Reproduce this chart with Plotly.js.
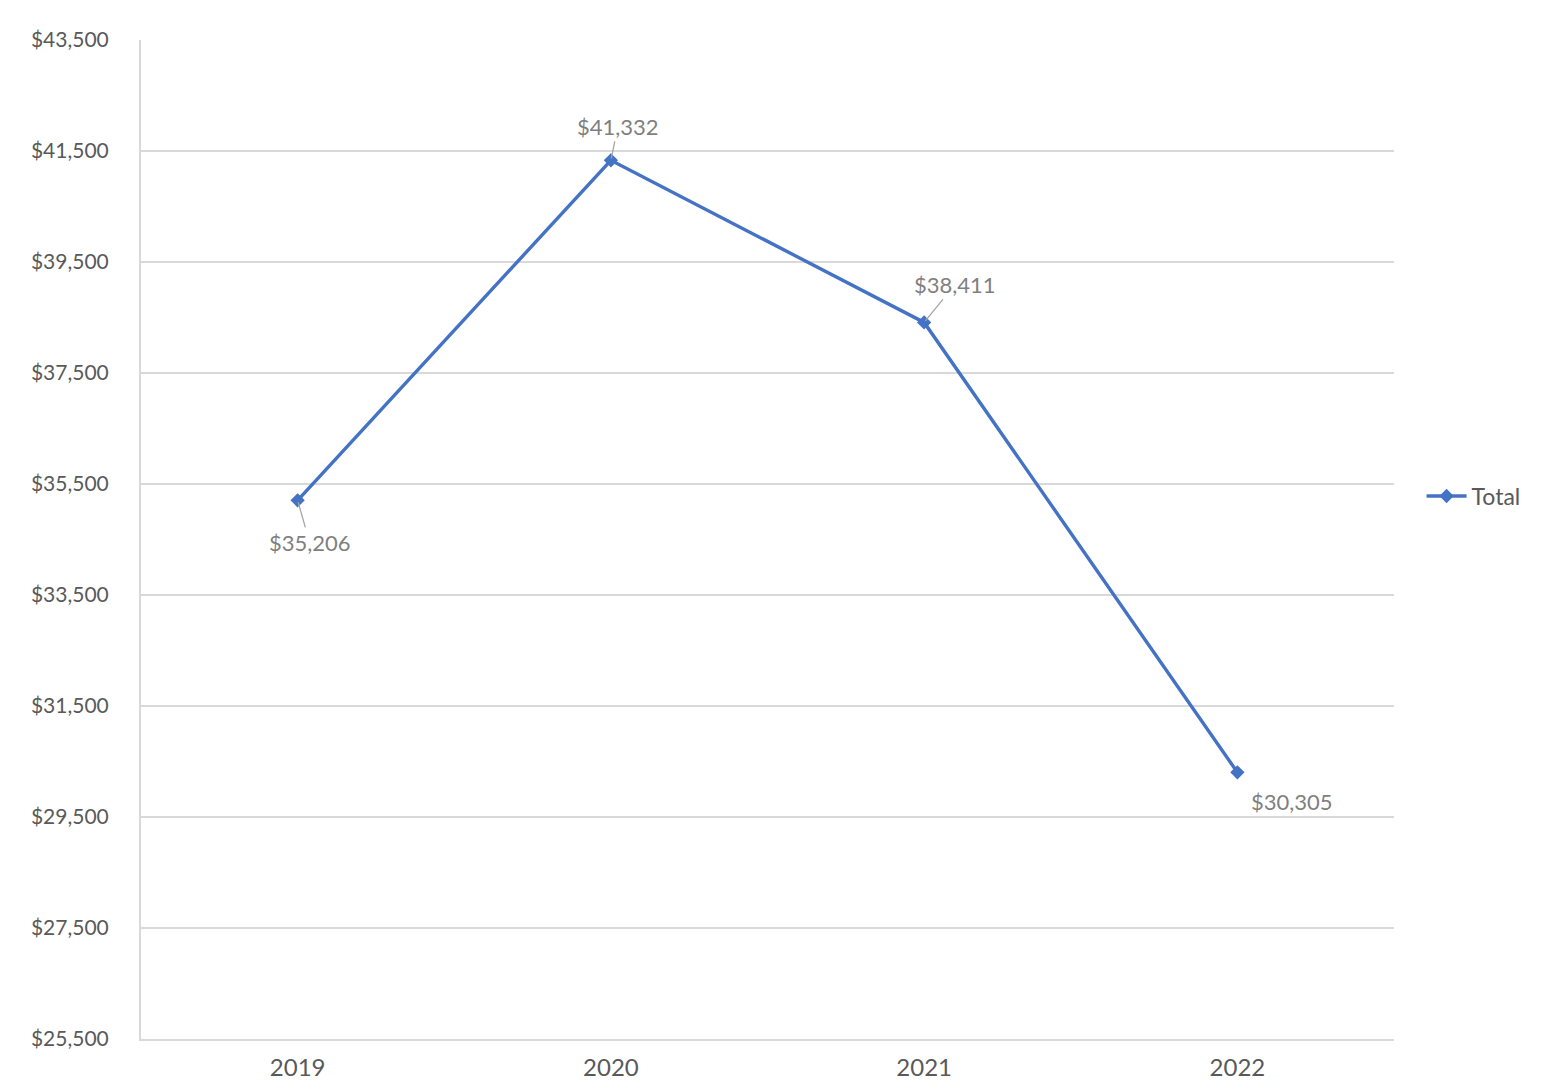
<!DOCTYPE html>
<html>
<head>
<meta charset="utf-8">
<script src="https://cdn.plot.ly/plotly-3.0.1.min.js"></script>
<style>html,body{margin:0;padding:0;background:#fff;}#chart{width:1568px;height:1092px;}</style>
</head>
<body>
<div id="chart"></div>
<script>
var years = ["2019", "2020", "2021", "2022"];
var totals = [35206, 41332, 38411, 30305];
var seriesName = "Total";

var FONT = "Lato, 'Open Sans', 'Liberation Sans', sans-serif";

function money(v) {
  return "&#36;" + v.toString().replace(/\B(?=(\d{3})+(?!\d))/g, ",");
}

var trace = {
  x: years,
  y: totals,
  type: "scatter",
  mode: "lines+markers",
  name: seriesName,
  line: {color: "#4472C4", width: 3.4},
  marker: {symbol: "diamond", size: 11, color: "#4472C4"},
  hoverinfo: "skip"
};

var offsets = [
  {ax: 12, ay: 42, arrow: true},
  {ax: 7, ay: -34, arrow: true},
  {ax: 31, ay: -38, arrow: true},
  {ax: 55, ay: 29, arrow: false}
];

// category axis: annotation x uses the category serial number
var annotations = years.map(function (yr, i) {
  var o = offsets[i];
  var a = {
    x: i, y: totals[i], xref: "x", yref: "y",
    text: money(totals[i]),
    font: {family: FONT, size: 22, color: "#7f7f7f"}
  };
  if (o.arrow) {
    a.showarrow = true; a.arrowhead = 0; a.arrowwidth = 1.3; a.arrowcolor = "#a6a6a6";
    a.ax = o.ax; a.ay = o.ay; a.standoff = 2;
  } else {
    a.showarrow = false; a.xshift = o.ax; a.yshift = -o.ay;
  }
  return a;
});

var layout = {
  width: 1568, height: 1092,
  margin: {l: 141, r: 174, t: 40, b: 53},
  paper_bgcolor: "#fff", plot_bgcolor: "#fff",
  font: {family: FONT, color: "#595959"},
  showlegend: true,
  legend: {
    x: 1.022, y: 0.5435, xanchor: "left", yanchor: "middle",
    itemwidth: 40,
    font: {family: FONT, size: 23, color: "#595959"},
    bgcolor: "rgba(0,0,0,0)"
  },
  xaxis: {
    type: "category",
    range: [-0.5, 3.5],
    showgrid: false,
    showline: true, linecolor: "#d9d9d9", linewidth: 2,
    ticks: "", zeroline: false,
    tickfont: {family: FONT, size: 24, color: "#595959"},
    ticklabelstandoff: 6
  },
  yaxis: {
    range: [25500, 43500],
    tick0: 25500, dtick: 2000,
    tickprefix: "$", tickformat: ",",
    showgrid: true, gridcolor: "#d9d9d9", gridwidth: 1.5,
    showline: true, linecolor: "#d9d9d9", linewidth: 2,
    zeroline: false, ticks: "",
    tickfont: {family: FONT, size: 21, color: "#595959"},
    ticklabelstandoff: 26
  },
  annotations: annotations
};

Plotly.newPlot("chart", [trace], layout, {displayModeBar: false, staticPlot: true});
</script>
</body>
</html>
